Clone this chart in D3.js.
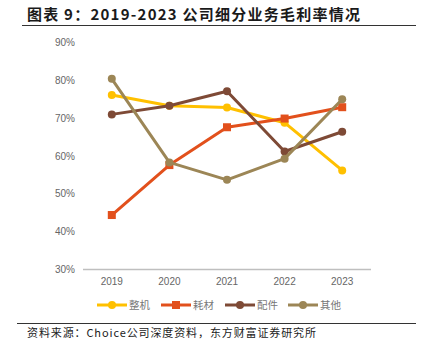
<!DOCTYPE html>
<html>
<head>
<meta charset="utf-8">
<script src="https://cdn.jsdelivr.net/npm/d3@7"></script>
<style>
  body { margin: 0; background: #fff; }
  svg { display: block; }
</style>
</head>
<body>
<svg width="421" height="352"></svg>
<script>
  const years = ["2019", "2020", "2021", "2022", "2023"];
  const yTicks = [0.3, 0.4, 0.5, 0.6, 0.7, 0.8, 0.9];

  const zhengji = [0.761, 0.733, 0.728, 0.688, 0.562];
  const haocai = [0.444, 0.576, 0.676, 0.699, 0.729];
  const peijian = [0.710, 0.733, 0.771, 0.612, 0.664];
  const qita = [0.804, 0.583, 0.537, 0.593, 0.750];

  const seriesNames = ["整机", "耗材", "配件", "其他"];
  const seriesColors = ["#FFC000", "#E2501C", "#7E4A36", "#9C8656"];
  const seriesShapes = ["circle", "square", "circle", "circle"];
  const seriesValues = [zhengji, haocai, peijian, qita];

  const svg = d3.select("svg");
  const FONT = "'Noto Sans CJK SC', 'Noto Sans', sans-serif";

  // title
  svg.append("text")
    .attr("x", 27).attr("y", 19.5)
    .attr("font-family", FONT)
    .attr("font-weight", "bold")
    .attr("font-size", 15)
    .attr("fill", "#1a1a1a")
    .attr("textLength", 333)
    .attr("lengthAdjust", "spacing")
    .text("图表 9：2019-2023 公司细分业务毛利率情况");

  svg.append("line")
    .attr("x1", 22).attr("x2", 416)
    .attr("y1", 25.5).attr("y2", 25.5)
    .attr("stroke", "#333").attr("stroke-width", 1);

  const x = d3.scaleBand().domain(years).range([83, 371]);
  const y = d3.scaleLinear().domain([0.3, 0.9]).range([269.5, 42.5]);

  // y labels
  svg.append("g")
    .selectAll("text")
    .data(yTicks)
    .join("text")
    .attr("x", 75)
    .attr("y", d => y(d) + 3.5)
    .attr("text-anchor", "end")
    .attr("font-family", "'Liberation Sans', Arial, sans-serif")
    .attr("font-size", 10)
    .attr("fill", "#666")
    .text(d3.format(".0%"));

  // x axis
  svg.append("line")
    .attr("x1", 83).attr("x2", 371)
    .attr("y1", y(0.3)).attr("y2", y(0.3))
    .attr("stroke", "#BFBFBF").attr("stroke-width", 1.5);

  svg.append("g")
    .selectAll("text")
    .data(years)
    .join("text")
    .attr("x", d => x(d) + x.bandwidth() / 2)
    .attr("y", 285)
    .attr("text-anchor", "middle")
    .attr("font-family", "'Liberation Sans', Arial, sans-serif")
    .attr("font-size", 10)
    .attr("fill", "#666")
    .text(d => d);

  const cx = d => x(d) + x.bandwidth() / 2;
  const line = d3.line()
    .x((d, i) => cx(years[i]))
    .y(d => y(d));

  seriesValues.forEach((vals, s) => {
    const g = svg.append("g");
    g.append("path")
      .attr("d", line(vals))
      .attr("fill", "none")
      .attr("stroke", seriesColors[s])
      .attr("stroke-width", 3)
      .attr("stroke-linejoin", "round");
    if (seriesShapes[s] === "square") {
      g.selectAll("rect")
        .data(vals)
        .join("rect")
        .attr("x", (d, i) => cx(years[i]) - 4)
        .attr("y", d => y(d) - 4)
        .attr("width", 8).attr("height", 8)
        .attr("fill", seriesColors[s]);
    } else {
      g.selectAll("circle")
        .data(vals)
        .join("circle")
        .attr("cx", (d, i) => cx(years[i]))
        .attr("cy", d => y(d))
        .attr("r", 4)
        .attr("fill", seriesColors[s]);
    }
  });

  // legend
  const legendX = [97, 161, 225, 288];
  const legY = 305;
  seriesNames.forEach((name, s) => {
    const lx = legendX[s];
    svg.append("line")
      .attr("x1", lx).attr("x2", lx + 30)
      .attr("y1", legY).attr("y2", legY)
      .attr("stroke", seriesColors[s]).attr("stroke-width", 3);
    if (seriesShapes[s] === "square") {
      svg.append("rect")
        .attr("x", lx + 11).attr("y", legY - 4)
        .attr("width", 8).attr("height", 8)
        .attr("fill", seriesColors[s]);
    } else {
      svg.append("circle")
        .attr("cx", lx + 15).attr("cy", legY).attr("r", 4)
        .attr("fill", seriesColors[s]);
    }
    svg.append("text")
      .attr("x", lx + 32).attr("y", legY + 4)
      .attr("font-family", FONT)
      .attr("font-size", 10.5)
      .attr("fill", "#777")
      .attr("textLength", 21)
      .attr("lengthAdjust", "spacing")
      .text(name);
  });

  svg.append("line")
    .attr("x1", 17).attr("x2", 416)
    .attr("y1", 323.5).attr("y2", 323.5)
    .attr("stroke", "#333").attr("stroke-width", 1);

  svg.append("text")
    .attr("x", 27).attr("y", 337)
    .attr("font-family", FONT)
    .attr("font-size", 11)
    .attr("fill", "#222")
    .attr("textLength", 289)
    .attr("lengthAdjust", "spacing")
    .text("资料来源：Choice公司深度资料，东方财富证券研究所");
</script>
</body>
</html>
